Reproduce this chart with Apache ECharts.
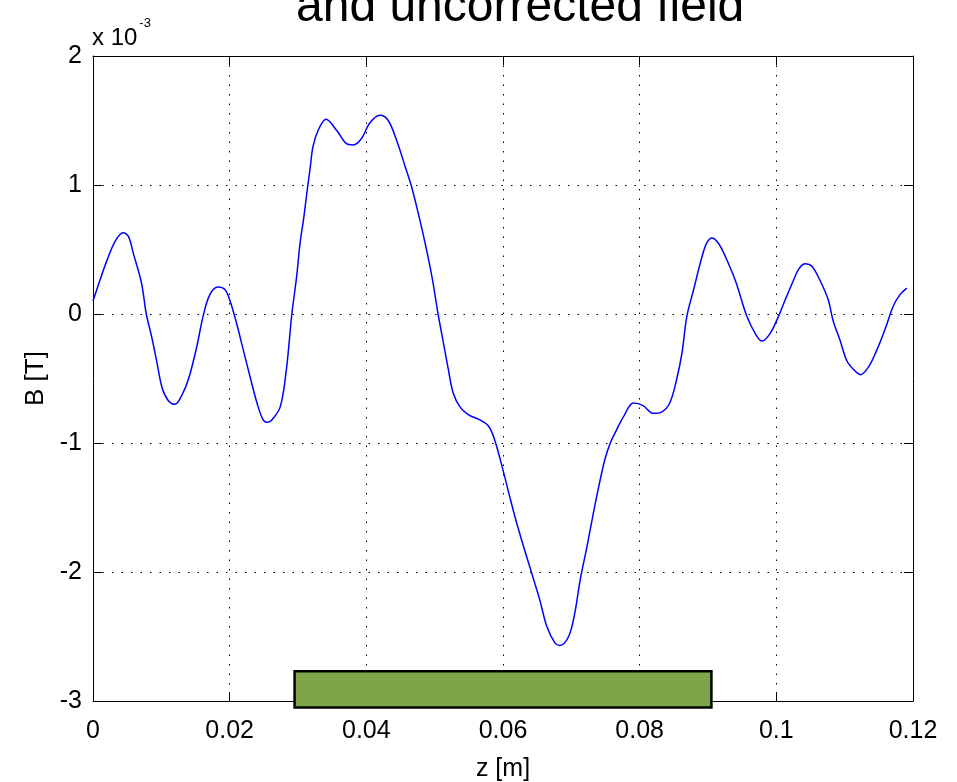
<!DOCTYPE html>
<html><head><meta charset="utf-8">
<script src="https://cdn.jsdelivr.net/npm/echarts@6/dist/echarts.min.js"></script>
<style>html,body{margin:0;padding:0;background:#fff}#c{width:957px;height:782px}</style>
</head><body><div id="c"></div>
<script>
// z position [m]
const zValues = [0.0000,0.0010,0.0020,0.0032,0.0044,0.0052,0.0059,0.0071,0.0078,0.0086,0.0093,0.0101,0.0110,0.0120,0.0130,0.0140,0.0152,0.0161,0.0171,0.0183,0.0193,0.0200,0.0210,0.0220,0.0230,0.0240,0.0249,0.0256,0.0262,0.0274,0.0283,0.0291,0.0298,0.0303,0.0308,0.0313,0.0318,0.0322,0.0330,0.0341,0.0357,0.0371,0.0381,0.0393,0.0405,0.0420,0.0432,0.0444,0.0457,0.0466,0.0476,0.0486,0.0496,0.0505,0.0513,0.0520,0.0527,0.0537,0.0549,0.0566,0.0579,0.0588,0.0600,0.0610,0.0620,0.0630,0.0642,0.0654,0.0664,0.0676,0.0683,0.0696,0.0705,0.0713,0.0723,0.0732,0.0740,0.0749,0.0757,0.0766,0.0776,0.0791,0.0805,0.0820,0.0832,0.0844,0.0854,0.0862,0.0869,0.0879,0.0890,0.0898,0.0906,0.0915,0.0925,0.0940,0.0957,0.0969,0.0979,0.0991,0.1003,0.1013,0.1025,0.1033,0.1042,0.1052,0.1064,0.1076,0.1083,0.1093,0.1103,0.1113,0.1123,0.1135,0.1147,0.1159,0.1171,0.1181,0.1191];
// B field [x 10^-3 T]
const bValues = [0.10,0.26,0.41,0.56,0.63,0.60,0.47,0.24,0.00,-0.18,-0.36,-0.57,-0.67,-0.70,-0.63,-0.50,-0.25,-0.02,0.15,0.21,0.19,0.11,-0.07,-0.28,-0.49,-0.69,-0.82,-0.84,-0.82,-0.72,-0.43,0.00,0.29,0.55,0.73,0.94,1.14,1.30,1.43,1.51,1.42,1.32,1.31,1.36,1.48,1.54,1.50,1.35,1.14,0.99,0.78,0.55,0.29,0.00,-0.23,-0.43,-0.61,-0.72,-0.78,-0.82,-0.87,-0.98,-1.21,-1.42,-1.62,-1.80,-2.01,-2.22,-2.42,-2.55,-2.57,-2.50,-2.32,-2.06,-1.80,-1.55,-1.34,-1.13,-1.00,-0.90,-0.80,-0.69,-0.71,-0.77,-0.76,-0.69,-0.51,-0.30,-0.02,0.19,0.42,0.55,0.59,0.55,0.45,0.26,-0.02,-0.15,-0.21,-0.15,-0.02,0.11,0.26,0.35,0.39,0.37,0.26,0.11,-0.05,-0.20,-0.36,-0.43,-0.47,-0.41,-0.28,-0.12,0.06,0.15,0.20];
// magnet block extent
const magnetZ = [0.0295, 0.0905];
const magnetB = [-2.77, -3.05];
const xRange = [0, 0.12, 0.02];
const yRange = [-3, 2, 1];

const FONT = 'Liberation Sans, Arial, sans-serif';
const chart = echarts.init(document.getElementById('c'), null, {renderer: 'canvas'});
const gridStyle = {show: true, lineStyle: {color: '#000', width: 1, type: [1.5, 8]}};
const axisLineStyle = {show: true, onZero: false, lineStyle: {color: '#000', width: 1}};
const tickStyle = {show: true, inside: true, length: 9, lineStyle: {color: '#000'}};
chart.setOption({
  animation: false,
  backgroundColor: '#fff',
  title: [
    {text: 'and uncorrected field', left: 296, top: -16, padding: 0,
     textStyle: {fontFamily: FONT, fontSize: 48, fontWeight: 'normal', color: '#000'}},
    {text: '{a|x 10}{b|-3}', left: 92, top: 17, padding: 0,
     textStyle: {fontWeight: 'normal', rich: {
       a: {fontFamily: FONT, fontSize: 24, fontWeight: 'normal', color: '#000', verticalAlign: 'bottom'},
       b: {fontFamily: FONT, fontSize: 13, fontWeight: 'normal', color: '#000', verticalAlign: 'top', padding: [0,0,20,2]}
     }}}
  ],
  grid: {left: 93, right: 44, top: 56, bottom: 81, containLabel: false, outerBoundsMode: 'none'},
  xAxis: [
    {type: 'value', min: xRange[0], max: xRange[1], interval: xRange[2], position: 'bottom',
     name: 'z [m]', nameLocation: 'middle', nameGap: 56,
     nameTextStyle: {fontFamily: FONT, fontSize: 25, color: '#000'},
     axisLine: axisLineStyle, axisTick: tickStyle,
     axisLabel: {fontFamily: FONT, fontSize: 25, color: '#000', margin: 18},
     splitLine: gridStyle},
    {type: 'value', min: xRange[0], max: xRange[1], interval: xRange[2], position: 'top',
     axisLine: axisLineStyle, axisTick: tickStyle,
     axisLabel: {show: false}, splitLine: {show: false}}
  ],
  yAxis: [
    {type: 'value', min: yRange[0], max: yRange[1], interval: yRange[2], position: 'left',
     name: 'B [T]', nameLocation: 'middle', nameGap: 44, nameRotate: 90,
     nameTextStyle: {fontFamily: FONT, fontSize: 26, color: '#000'},
     axisLine: axisLineStyle, axisTick: tickStyle,
     axisLabel: {fontFamily: FONT, fontSize: 25, color: '#000', margin: 11},
     splitLine: gridStyle},
    {type: 'value', min: yRange[0], max: yRange[1], interval: yRange[2], position: 'right',
     axisLine: axisLineStyle, axisTick: tickStyle,
     axisLabel: {show: false}, splitLine: {show: false}}
  ],
  series: [
    {type: 'line', data: zValues.map((z, i) => [z, bValues[i]]), smooth: 0.35, showSymbol: false,
     lineStyle: {color: '#0000ff', width: 1.5}, z: 3},
    {type: 'custom', clip: false, z: 5,
     data: [[magnetZ[0], magnetZ[1], magnetB[0], magnetB[1]]],
     renderItem: function (params, api) {
       const p0 = api.coord([api.value(0), api.value(2)]);
       const p1 = api.coord([api.value(1), api.value(3)]);
       return {type: 'rect', shape: {x: p0[0], y: p0[1], width: p1[0] - p0[0], height: p1[1] - p0[1]},
               style: {fill: '#7ea649', stroke: '#000', lineWidth: 2.5}};
     }}
  ]
});
</script></body></html>
